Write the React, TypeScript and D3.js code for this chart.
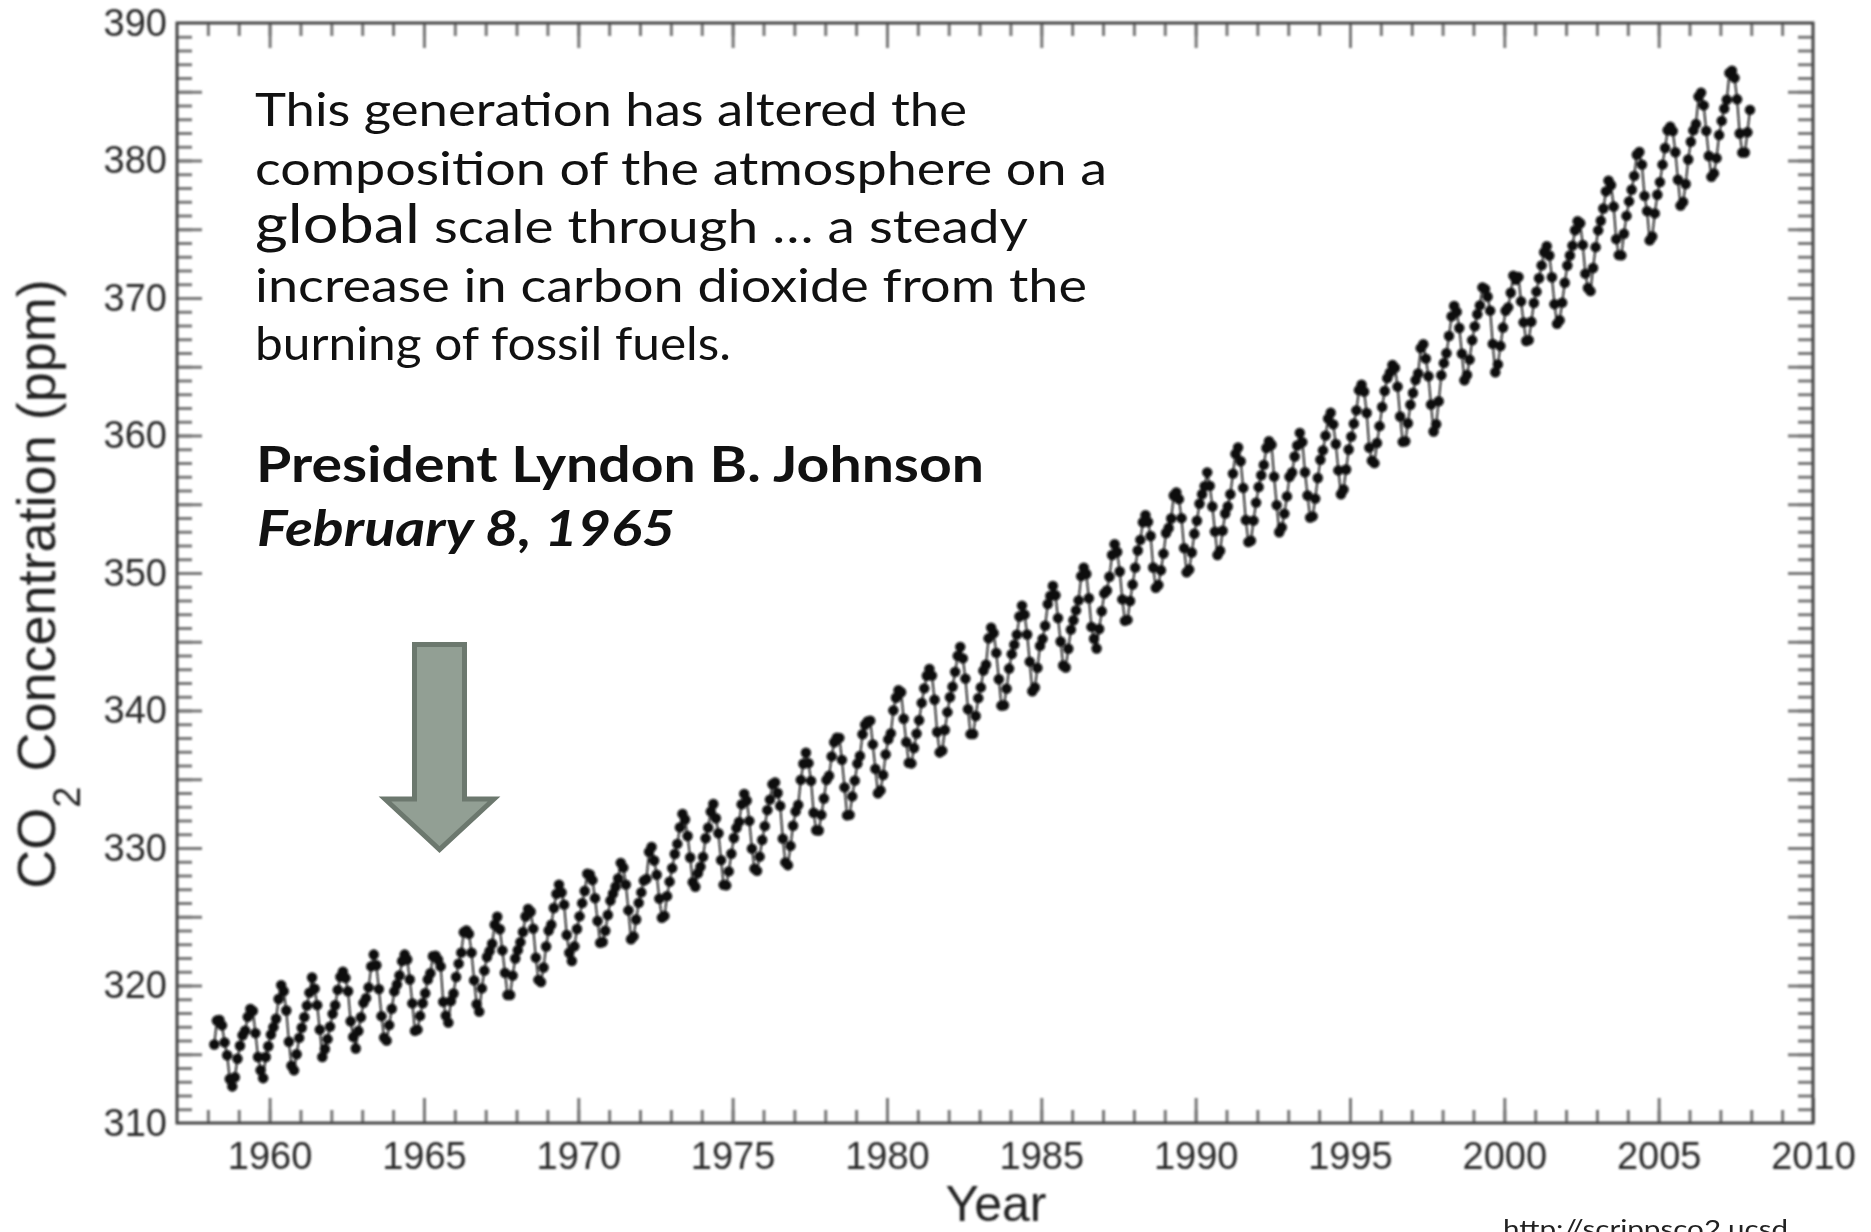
import { useEffect, useRef } from "react"
import * as d3 from "d3"

// Mauna Loa monthly mean CO2 (ppm), starting March 1958
const startYear = 1958
const startMonth = 3

const co2_1958_1959 = [
  315.71, 317.45, 317.5, 317.1, 315.86, 314.93, 313.2, 312.66, 313.33, 314.67,
  315.62, 316.38, 316.71, 317.72, 318.29, 318.15, 316.54, 314.8, 313.84, 313.26, 314.8, 315.58,
]

const co2_1960s = [
  316.43, 316.97, 317.58, 319.02, 320.03, 319.59, 318.18, 315.91, 314.16, 313.83, 315.0, 316.19,
  316.93, 317.7, 318.54, 319.48, 320.58, 319.77, 318.57, 316.79, 314.8, 315.38, 316.1, 317.01,
  317.94, 318.56, 319.68, 320.63, 321.01, 320.55, 319.58, 317.4, 316.26, 315.42, 316.69, 317.69,
  318.74, 319.08, 319.86, 321.39, 322.25, 321.47, 319.74, 317.77, 316.21, 315.99, 317.12, 318.31,
  319.57, 320.07, 320.73, 321.77, 322.25, 321.89, 320.44, 318.7, 316.7, 316.79, 317.79, 318.71,
  319.44, 320.44, 320.89, 322.13, 322.16, 321.87, 321.39, 318.81, 317.81, 317.3, 318.87, 319.42,
  320.62, 321.59, 322.39, 323.87, 324.01, 323.75, 322.39, 320.37, 318.64, 318.1, 319.79, 321.08,
  322.07, 322.5, 323.04, 324.42, 325.0, 324.09, 322.55, 320.92, 319.31, 319.31, 320.72, 321.96,
  322.57, 323.15, 323.89, 325.02, 325.57, 325.36, 324.14, 322.03, 320.41, 320.25, 321.31, 322.84,
  324.0, 324.42, 325.64, 326.66, 327.34, 326.76, 325.88, 323.67, 322.38, 321.78, 322.85, 324.11,
]

const co2_1970s = [
  325.03, 325.99, 326.87, 328.13, 328.07, 327.66, 326.35, 324.69, 323.1, 323.16, 323.98, 325.13,
  326.17, 326.68, 327.18, 327.78, 328.92, 328.57, 327.34, 325.46, 323.36, 323.57, 324.8, 326.01,
  326.77, 327.63, 327.75, 329.72, 330.07, 329.09, 328.05, 326.32, 324.93, 325.06, 326.5, 327.55,
  328.54, 329.56, 330.3, 331.5, 332.48, 332.07, 330.87, 329.31, 327.51, 327.18, 328.16, 328.64,
  329.35, 330.71, 331.48, 332.65, 333.2, 332.16, 331.07, 329.12, 327.32, 327.28, 328.3, 329.58,
  330.73, 331.46, 331.9, 333.17, 333.94, 333.45, 331.97, 329.95, 328.5, 328.34, 329.37, 330.58,
  331.59, 332.75, 333.52, 334.64, 334.77, 334.0, 333.06, 330.68, 328.95, 328.75, 330.15, 331.62,
  332.66, 333.13, 334.95, 336.13, 336.93, 336.17, 334.88, 332.56, 331.29, 331.27, 332.41, 333.6,
  334.95, 335.25, 336.66, 337.69, 338.03, 338.01, 336.41, 334.41, 332.37, 332.41, 333.75, 334.9,
  336.14, 336.69, 338.27, 338.96, 339.21, 339.26, 337.54, 335.75, 333.98, 334.19, 335.31, 336.81,
]

const co2_1980s = [
  337.9, 338.34, 340.01, 340.93, 341.48, 341.33, 339.4, 337.7, 336.19, 336.15, 337.27, 338.32,
  339.29, 340.55, 341.61, 342.53, 343.03, 342.54, 340.78, 338.44, 336.95, 337.08, 338.58, 339.88,
  340.96, 341.73, 342.81, 343.97, 344.63, 343.79, 342.32, 340.09, 338.28, 338.29, 339.6, 340.9,
  341.68, 342.9, 343.33, 345.25, 346.03, 345.63, 344.19, 342.27, 340.35, 340.38, 341.59, 343.05,
  344.1, 344.79, 345.52, 346.84, 347.63, 346.97, 345.53, 343.55, 341.4, 341.67, 343.1, 344.7,
  345.21, 346.16, 347.74, 348.33, 349.06, 348.38, 346.72, 345.02, 343.27, 343.13, 344.49, 345.88,
  346.56, 347.28, 348.01, 349.77, 350.38, 349.93, 348.16, 346.08, 345.22, 344.51, 345.93, 347.22,
  348.52, 348.73, 349.73, 351.31, 352.09, 351.53, 350.11, 348.08, 346.52, 346.59, 347.96, 349.16,
  350.39, 351.64, 352.41, 353.69, 354.21, 353.72, 352.69, 350.4, 348.92, 349.13, 350.2, 351.41,
  352.91, 353.27, 353.96, 355.64, 355.86, 355.37, 353.99, 351.81, 350.05, 350.25, 351.49, 352.85,
]

const co2_1990s = [
  353.8, 355.04, 355.73, 356.32, 357.32, 356.34, 354.84, 353.01, 351.31, 351.62, 353.07, 354.33,
  354.84, 355.73, 357.23, 358.66, 359.13, 358.13, 356.19, 353.85, 352.25, 352.35, 353.81, 355.12,
  356.25, 357.11, 357.86, 359.09, 359.59, 359.33, 357.01, 354.94, 352.96, 353.32, 354.32, 355.57,
  357.0, 357.31, 358.47, 359.27, 360.19, 359.52, 357.33, 355.64, 354.03, 354.12, 355.41, 356.91,
  358.24, 358.92, 359.99, 361.23, 361.65, 360.81, 359.38, 357.46, 355.73, 356.07, 357.53, 358.98,
  359.92, 360.86, 361.83, 363.3, 363.69, 363.19, 361.64, 359.12, 358.17, 357.99, 359.45, 360.68,
  362.07, 363.24, 364.17, 364.57, 365.13, 364.92, 363.55, 361.38, 359.54, 359.58, 360.89, 362.24,
  363.09, 364.03, 364.51, 366.35, 366.64, 365.59, 364.31, 362.25, 360.29, 360.82, 362.49, 364.38,
  365.26, 365.98, 367.24, 368.66, 369.42, 368.99, 367.82, 365.95, 364.02, 364.4, 365.52, 366.93,
  367.94, 368.82, 369.46, 370.77, 370.66, 370.1, 369.08, 366.66, 364.6, 365.17, 366.51, 367.85,
]

const co2_2000s = [
  369.07, 369.32, 370.38, 371.63, 371.32, 371.53, 369.75, 368.23, 366.87, 366.94, 368.27, 369.64,
  370.46, 371.44, 372.37, 373.33, 373.77, 373.09, 371.51, 369.55, 368.12, 368.38, 369.66, 371.11,
  372.36, 373.09, 373.81, 374.93, 375.58, 375.44, 373.86, 371.77, 370.73, 370.5, 372.18, 373.7,
  374.92, 375.62, 376.51, 377.75, 378.54, 378.21, 376.65, 374.28, 373.12, 373.1, 374.67, 375.97,
  377.03, 377.87, 378.88, 380.42, 380.62, 379.7, 377.43, 376.32, 374.19, 374.47, 376.15, 377.51,
  378.43, 379.7, 380.91, 382.2, 382.45, 382.14, 380.6, 378.6, 376.72, 376.98, 378.29, 380.07,
  381.36, 382.19, 382.65, 384.65, 384.94, 384.01, 382.15, 380.33, 378.81, 379.06, 380.17, 381.85,
  382.88, 383.77, 384.42, 386.36, 386.53, 386.01, 384.45, 381.96, 380.57, 380.58, 382.05, 383.68,
]

const xTickLabels = [1960, 1965, 1970, 1975, 1980, 1985, 1990, 1995, 2000, 2005, 2010]
const yTickLabels = [310, 320, 330, 340, 350, 360, 370, 380, 390]

const quoteLines = [
  "This generation has altered the",
  "composition of the atmosphere on a",
  "increase in carbon dioxide from the",
  "burning of fossil fuels.",
]

export default function App() {
  const svgRef = useRef<SVGSVGElement>(null)

  useEffect(() => {
    if (!svgRef.current) return

    const width = 1871
    const height = 1232
    const margin = { top: 23, right: 58, bottom: 109, left: 177 }
    const innerWidth = width - margin.left - margin.right
    const innerHeight = height - margin.top - margin.bottom

    const svg = d3.select(svgRef.current)
    svg.selectAll("*").remove()

    // soft blur, the original plot is an upscaled bitmap
    svg
      .append("defs")
      .append("filter")
      .attr("id", "soft")
      .attr("x", "-5%")
      .attr("y", "-5%")
      .attr("width", "110%")
      .attr("height", "110%")
      .append("feGaussianBlur")
      .attr("stdDeviation", 0.9)

    svg.append("rect").attr("width", width).attr("height", height).attr("fill", "#fff")

    const xScale = d3.scaleLinear().domain([1957, 2010]).range([0, innerWidth])
    const yScale = d3.scaleLinear().domain([310, 390]).range([innerHeight, 0])

    const g = svg
      .append("g")
      .attr("transform", `translate(${margin.left},${margin.top})`)
      .attr("filter", "url(#soft)")

    const series = [...co2_1958_1959, ...co2_1960s, ...co2_1970s, ...co2_1980s, ...co2_1990s, ...co2_2000s]
    const points = series.map((v, i) => ({
      date: startYear + (startMonth - 1 + i + 0.5) / 12,
      value: v,
    }))

    const tickColor = "#777"
    const labelColor = "#2a2a2a"
    const labelFont = "'Liberation Sans', Arial, Helvetica, sans-serif"

    const styleAxis = (sel: any) => {
      sel.select(".domain").remove()
      sel.selectAll("line").attr("stroke", tickColor).attr("stroke-width", 3)
      sel
        .selectAll("text")
        .attr("fill", labelColor)
        .attr("font-size", 38)
        .attr("font-family", labelFont)
    }

    // minor ticks, every year / every ppm
    const yearMinor = d3.range(1958, 2010)
    const ppmMinor = d3.range(311, 390)

    g.append("g")
      .attr("transform", `translate(0,${innerHeight})`)
      .call(d3.axisBottom(xScale).tickValues(yearMinor).tickSizeInner(-13).tickSizeOuter(0).tickFormat(() => ""))
      .call(styleAxis)
    g.append("g")
      .call(d3.axisTop(xScale).tickValues(yearMinor).tickSizeInner(-13).tickSizeOuter(0).tickFormat(() => ""))
      .call(styleAxis)
    g.append("g")
      .call(d3.axisLeft(yScale).tickValues(ppmMinor).tickSizeInner(-15).tickSizeOuter(0).tickFormat(() => ""))
      .call(styleAxis)
    g.append("g")
      .attr("transform", `translate(${innerWidth},0)`)
      .call(d3.axisRight(yScale).tickValues(ppmMinor).tickSizeInner(-15).tickSizeOuter(0).tickFormat(() => ""))
      .call(styleAxis)

    // major ticks with labels
    const yearMajor = d3.range(1960, 2010, 5)
    const ppmMajor = d3.range(315, 390, 5)

    g.append("g")
      .attr("transform", `translate(0,${innerHeight})`)
      .call(
        d3
          .axisBottom(xScale)
          .tickValues(xTickLabels)
          .tickSizeInner(-25)
          .tickSizeOuter(0)
          .tickPadding(19)
          .tickFormat((d) => String(d)),
      )
      .call(styleAxis)
    g.append("g")
      .call(d3.axisTop(xScale).tickValues(yearMajor).tickSizeInner(-25).tickSizeOuter(0).tickFormat(() => ""))
      .call(styleAxis)
    g.append("g")
      .call(d3.axisLeft(yScale).tickValues(ppmMajor).tickSizeInner(-25).tickSizeOuter(0).tickFormat(() => ""))
      .call(styleAxis)
    g.append("g")
      .call(
        d3
          .axisLeft(yScale)
          .tickValues(yTickLabels)
          .tickSizeInner(0)
          .tickSizeOuter(0)
          .tickPadding(10)
          .tickFormat((d) => String(d)),
      )
      .call(styleAxis)
    g.append("g")
      .attr("transform", `translate(${innerWidth},0)`)
      .call(d3.axisRight(yScale).tickValues(ppmMajor).tickSizeInner(-25).tickSizeOuter(0).tickFormat(() => ""))
      .call(styleAxis)

    // frame
    g.append("rect")
      .attr("width", innerWidth)
      .attr("height", innerHeight)
      .attr("fill", "none")
      .attr("stroke", "#444")
      .attr("stroke-width", 3)

    // data line + dots
    const line = d3
      .line<{ date: number; value: number }>()
      .x((d) => xScale(d.date))
      .y((d) => yScale(d.value))

    g.append("path")
      .datum(points)
      .attr("d", line)
      .attr("fill", "none")
      .attr("stroke", "#111")
      .attr("stroke-width", 1.8)

    g.selectAll(".dot")
      .data(points)
      .enter()
      .append("circle")
      .attr("class", "dot")
      .attr("cx", (d) => xScale(d.date))
      .attr("cy", (d) => yScale(d.value))
      .attr("r", 5.2)
      .attr("fill", "#0a0a0a")

    // axis titles
    g.append("text")
      .attr("x", 996 - margin.left)
      .attr("y", innerHeight + 98)
      .attr("text-anchor", "middle")
      .attr("font-family", labelFont)
      .attr("font-size", 50)
      .attr("fill", "#222")
      .text("Year")

    const yTitle = svg
      .append("text")
      .attr("transform", `translate(55,584) rotate(-90)`)
      .attr("text-anchor", "middle")
      .attr("font-family", labelFont)
      .attr("font-size", 54)
      .attr("fill", "#222")
      .attr("filter", "url(#soft)")
    yTitle.append("tspan").text("CO")
    yTitle.append("tspan").attr("font-size", 38).attr("dy", 25).text("2")
    yTitle.append("tspan").attr("dy", -25).text(" Concentration (ppm)")

    // quote annotation
    const quoteFont = "Lato, 'Open Sans', sans-serif"
    const q = svg.append("g").attr("fill", "#111").attr("font-family", quoteFont)
    const quoteWidths = [712, 852, 832, 476]
    const quoteBaselines = [126, 185, 302, 360]
    quoteLines.forEach((t, i) => {
      q.append("text")
        .attr("x", 255)
        .attr("y", quoteBaselines[i])
        .attr("font-size", 46)
        .attr("textLength", quoteWidths[i])
        .attr("lengthAdjust", "spacingAndGlyphs")
        .text(t)
    })
    q.append("text")
      .attr("x", 255)
      .attr("y", 243)
      .attr("font-size", 54)
      .attr("textLength", 165)
      .attr("lengthAdjust", "spacingAndGlyphs")
      .text("global")
    q.append("text")
      .attr("x", 434)
      .attr("y", 243)
      .attr("font-size", 46)
      .attr("textLength", 594)
      .attr("lengthAdjust", "spacingAndGlyphs")
      .text("scale through \u2026 a steady")

    q.append("text")
      .attr("x", 256)
      .attr("y", 482)
      .attr("font-size", 50)
      .attr("font-weight", 700)
      .attr("textLength", 728)
      .attr("lengthAdjust", "spacingAndGlyphs")
      .text("President Lyndon B. Johnson")
    q.append("text")
      .attr("x", 257)
      .attr("y", 546)
      .attr("font-size", 50)
      .attr("font-weight", 700)
      .attr("font-style", "italic")
      .attr("textLength", 418)
      .attr("lengthAdjust", "spacingAndGlyphs")
      .text("February 8, 1965")

    // arrow pointing at 1965
    svg
      .append("path")
      .attr("d", "M414.5,644.5 L464.5,644.5 L464.5,799 L494,799 L439.5,849.5 L385,799 L414.5,799 Z")
      .attr("fill", "#929f94")
      .attr("stroke", "#6c786e")
      .attr("stroke-width", 5)
      .attr("stroke-linejoin", "miter")

    // source url, cut by the page edge as in the original slide
    svg
      .append("text")
      .attr("x", 1503)
      .attr("y", 1238)
      .attr("font-family", quoteFont)
      .attr("font-size", 25)
      .attr("fill", "#222")
      .attr("textLength", 285)
      .attr("lengthAdjust", "spacingAndGlyphs")
      .text("http://scrippsco2.ucsd")
  }, [])

  return (
    <svg
      ref={svgRef}
      width={1871}
      height={1232}
      style={{ position: "absolute", left: 0, top: 0, display: "block", overflow: "hidden" }}
    />
  )
}
